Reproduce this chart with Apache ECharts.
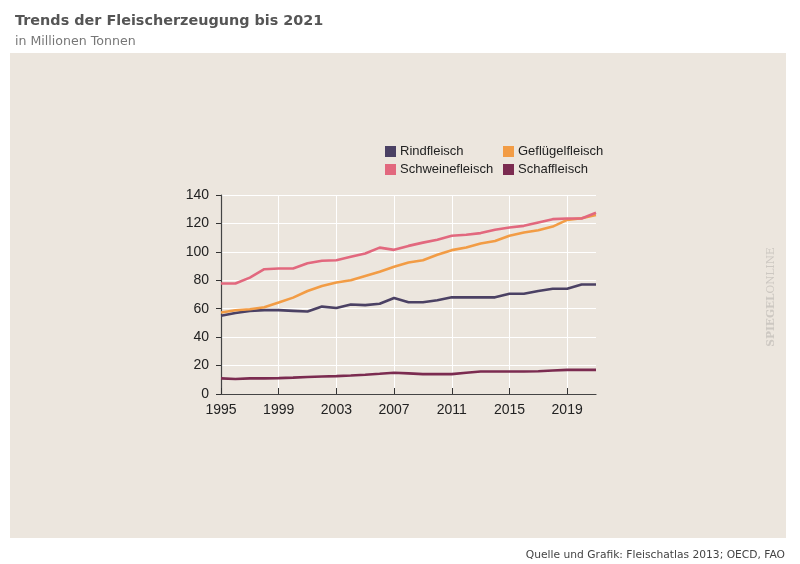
<!DOCTYPE html>
<html><head><meta charset="utf-8">
<script src="https://cdn.jsdelivr.net/npm/echarts@6/dist/echarts.min.js"></script>
<style>html,body{margin:0;padding:0;background:#fff;}#c{width:800px;height:564px;}</style>
</head><body><div id="c"></div>
<script>
const years = ['1995','1996','1997','1998','1999','2000','2001','2002','2003','2004','2005','2006','2007','2008','2009','2010','2011','2012','2013','2014','2015','2016','2017','2018','2019','2020','2021'];
const rindfleisch = [55,57,58.5,59,59,58.5,58,61.5,60.5,63,62.5,63.5,67.5,64.5,64.5,66,68,68,68,68,70.5,70.5,72.5,74,74,77,77];
const gefluegelfleisch = [57.3,58.9,59.6,61,64.3,67.8,72.5,76,78.4,80,83,86,89.5,92.5,94.1,97.9,101.2,103,105.9,107.7,111.3,113.6,115.2,117.8,122.5,123.7,126];
const schweinefleisch = [77.7,77.7,81.9,87.8,88.3,88.3,92,93.7,94.1,96.5,98.8,103,101.4,104.2,106.5,108.5,111.3,112,113.2,115.5,117.1,118.3,120.7,123,123.5,123.5,127.5];
const schaffleisch = [11,10.5,11,11,11.2,11.5,12,12.3,12.6,13,13.5,14.2,15,14.5,14,14,14,15,15.8,15.8,15.8,15.8,16,16.5,17,17,17];
const yTicks = [0,20,40,60,80,100,120,140];

const chart = echarts.init(document.getElementById('c'), null, {renderer:'canvas'});
const F = '"Liberation Sans", Arial, sans-serif';
const mk = (name, data, color) => ({
  name, type:'line', data, symbol:'none', smooth:false,
  lineStyle:{color, width:2.6}, itemStyle:{color}, z:3
});
chart.setOption({
  backgroundColor:'#fff',
  animation:false,
  title:[
    {text:'Trends der Fleischerzeugung bis 2021', left:10, top:9,
     textStyle:{fontFamily:'"DejaVu Sans", Verdana, sans-serif', fontWeight:'bold', fontSize:14.4, color:'#555'}},
    {text:'in Millionen Tonnen', left:10, top:30,
     textStyle:{fontFamily:'"DejaVu Sans", Verdana, sans-serif', fontWeight:'normal', fontSize:12.6, color:'#777'}},
    {text:'Quelle und Grafik: Fleischatlas 2013; OECD, FAO', right:10, top:545,
     textStyle:{fontFamily:'"DejaVu Sans", Verdana, sans-serif', fontWeight:'normal', fontSize:10.7, color:'#444'}}
  ],
  graphic:[
    {type:'rect', left:10, top:53, shape:{width:776, height:485}, style:{fill:'#ece6de'}, z:-10, silent:true},
    {type:'text', x:771, y:297, rotation:Math.PI/2,
     style:{text:'{b|SPIEGEL}{n|ONLINE}', align:'center', verticalAlign:'middle',
       rich:{b:{fontFamily:'"DejaVu Serif", serif', fontWeight:'bold', fontSize:10.6, fill:'#cdc8c2', color:'#cdc8c2'},
             n:{fontFamily:'"DejaVu Serif", serif', fontWeight:'normal', fontSize:10.6, fill:'#cdc8c2', color:'#cdc8c2'}}},
     z:-5, silent:true}
  ],
  legend:[
    {orient:'vertical', left:380, top:140, itemWidth:11, itemHeight:11, itemGap:5, icon:'rect',
     data:['Rindfleisch','Schweinefleisch'], textStyle:{fontFamily:F, fontSize:13, color:'#222', padding:[0,0,0,-1]}},
    {orient:'vertical', left:498, top:140, itemWidth:11, itemHeight:11, itemGap:5, icon:'rect',
     data:['Geflügelfleisch','Schaffleisch'], textStyle:{fontFamily:F, fontSize:13, color:'#222', padding:[0,0,0,-1]}}
  ],
  grid:{left:221, top:195, right:204, bottom:170, containLabel:false},
  xAxis:{
    type:'category', data:years, boundaryGap:false,
    axisLine:{lineStyle:{color:'#444', width:1.2}},
    axisTick:{inside:true, length:6, interval:3, lineStyle:{color:'#333'}},
    axisLabel:{interval:3, margin:9, fontFamily:F, fontSize:14, color:'#222'},
    splitLine:{show:true, interval:3, lineStyle:{color:'#ffffff', width:1}}
  },
  yAxis:{
    type:'value', min:0, max:140, interval:20,
    axisLine:{show:true, lineStyle:{color:'#444', width:1.2}},
    axisTick:{show:true, length:5, lineStyle:{color:'#333'}},
    axisLabel:{margin:12, fontFamily:F, fontSize:14, color:'#222',
      formatter:v => yTicks.includes(v) ? String(v) : ''},
    splitLine:{show:true, lineStyle:{color:'#ffffff', width:1}}
  },
  series:[
    mk('Schaffleisch', schaffleisch, '#7b2b50'),
    mk('Rindfleisch', rindfleisch, '#4b4164'),
    mk('Geflügelfleisch', gefluegelfleisch, '#f29c45'),
    mk('Schweinefleisch', schweinefleisch, '#e2687e')
  ]
});
</script></body></html>
